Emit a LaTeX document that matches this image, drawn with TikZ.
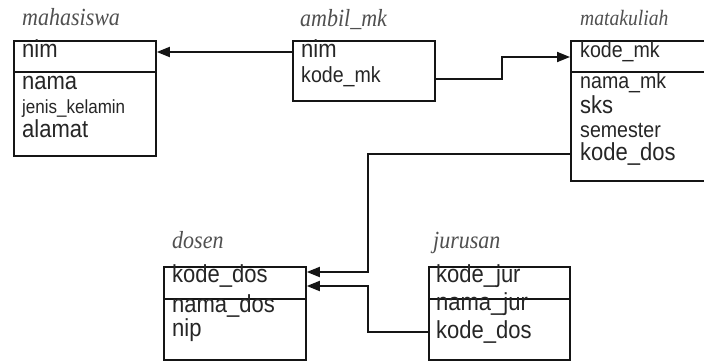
\documentclass[tikz,border=0pt]{standalone}
\usepackage{fontspec}
\setmainfont{Liberation Sans}
\newfontfamily\titlefont{Liberation Serif}
\usetikzlibrary{arrows.meta}
\definecolor{txt}{HTML}{262626}
\definecolor{ttl}{HTML}{505050}
\definecolor{ln}{HTML}{151515}
\newcommand\vsc[1]{\scalebox{1}[1.12]{#1}}
\tikzset{
  tbl/.style={draw=ln, line width=1.8pt, anchor=north west, inner sep=0pt},
  divider/.style={draw=ln, line width=2.6pt},
  fld/.style={anchor=base west, inner sep=0pt, text=txt, font=\fontsize{22}{24}\selectfont},
  fldm/.style={fld, font=\fontsize{19.6}{22}\selectfont},
  flds/.style={fld, font=\fontsize{17}{19}\selectfont},
  ttlnode/.style={anchor=base west, inner sep=0pt, text=ttl, font=\titlefont\itshape\fontsize{22}{24}\selectfont},
  conn/.style={draw=ln, line width=1.8pt},
  arr/.style={conn, -{Triangle[length=13pt,width=10pt]}}
}
\begin{document}
\begin{tikzpicture}[x=1pt,y=-1pt]
\clip (0,0) rectangle (704,364);
\fill[white] (0,0) rectangle (704,364);

% mahasiswa
\node[ttlnode] (tmhs) at (22,25) {\vsc{mahasiswa}};
\node[tbl, minimum width=142pt, minimum height=115pt] (mhs) at (13,40) {};
\draw[divider] ([yshift=-32pt]mhs.north west) -- ([yshift=-32pt]mhs.north east);
\node[fld] (mhs1) at (22,57) {\vsc{nim}};
\node[fld] (mhs2) at (22,89) {\vsc{nama}};
\node[flds] (mhs3) at (22,113) {\vsc{jenis\_kelamin}};
\node[fld] (mhs4) at (22,137) {\vsc{alamat}};

% ambil_mk
\node[ttlnode] (tamb) at (300,26) {\vsc{ambil\_mk}};
\node[tbl, minimum width=142pt, minimum height=60pt] (amb) at (292,40) {};
\node[fld] (amb1) at (301,57) {\vsc{nim}};
\node[fldm] (amb2) at (301,82) {\vsc{kode\_mk}};

% matakuliah
\node[ttlnode, font=\titlefont\itshape\fontsize{19.6}{22}\selectfont] (tmk) at (580,25) {\vsc{matakuliah}};
\node[tbl, minimum width=150pt, minimum height=140pt] (mk) at (570,40) {};
\draw[divider] ([yshift=-32pt]mk.north west) -- ([yshift=-32pt]mk.north east);
\node[fldm] (mk1) at (580,57) {\vsc{kode\_mk}};
\node[fldm] (mk2) at (580,88) {\vsc{nama\_mk}};
\node[fld] (mk3) at (580,113) {\vsc{sks}};
\node[fldm] (mk4) at (580,137) {\vsc{semester}};
\node[fld] (mk5) at (580,160) {\vsc{kode\_dos}};

% dosen
\node[ttlnode] (tdos) at (172,248) {\vsc{dosen}};
\node[tbl, minimum width=142pt, minimum height=93pt] (dos) at (163,266) {};
\draw[divider] ([yshift=-33pt]dos.north west) -- ([yshift=-33pt]dos.north east);
\node[fld] (dos1) at (172,282) {\vsc{kode\_dos}};
\node[fld] (dos2) at (172,312) {\vsc{nama\_dos}};
\node[fld] (dos3) at (172,336) {\vsc{nip}};

% jurusan
\node[ttlnode] (tjur) at (433,248) {\vsc{jurusan}};
\node[tbl, minimum width=141pt, minimum height=93pt] (jur) at (428,266) {};
\draw[divider] ([yshift=-33pt]jur.north west) -- ([yshift=-33pt]jur.north east);
\node[fld] (jur1) at (436,282) {\vsc{kode\_jur}};
\node[fld] (jur2) at (436,310) {\vsc{nama\_jur}};
\node[fld] (jur3) at (436,338) {\vsc{kode\_dos}};

% routing coordinates
\coordinate (r1) at (0,52);
\coordinate (r2) at (0,79);
\coordinate (r3) at (0,57);
\coordinate (j1) at (502,0);
\coordinate (r4) at (0,154);
\coordinate (r5) at (0,272);
\coordinate (j2) at (368,0);
\coordinate (r6) at (0,332);
\coordinate (r7) at (0,286);

% connectors
\draw[arr] (amb.west |- r1) -- (mhs.east |- r1);
\draw[arr] (amb.east |- r2) -- (j1 |- r2) -- (j1 |- r3) -- (mk.west |- r3);
\draw[arr] (mk.west |- r4) -- (j2 |- r4) -- (j2 |- r5) -- (dos.east |- r5);
\draw[arr] (jur.west |- r6) -- (j2 |- r6) -- (j2 |- r7) -- (dos.east |- r7);
\end{tikzpicture}
\end{document}
